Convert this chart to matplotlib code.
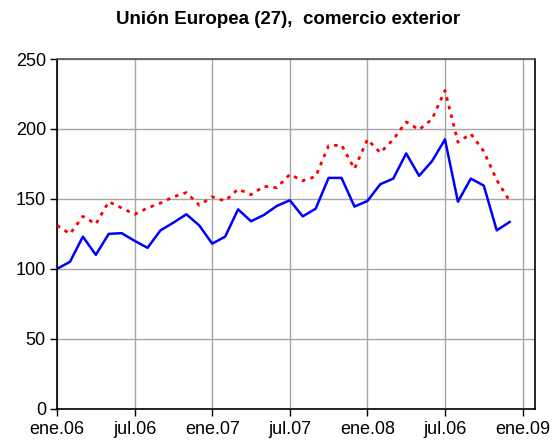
import numpy as np
import matplotlib.pyplot as plt

plt.rcParams['font.family'] = ['Liberation Sans', 'DejaVu Sans']

# monthly values, ene.06 .. dic.08
serie_azul = [100, 105, 123, 110, 125, 125.5, 120, 115, 127.5, 133, 139, 131,
              118, 123, 142.5, 134, 138.5, 145, 149, 137.5, 143, 165,
              165, 144.5, 148.5, 160.5, 164.5, 182.5, 166.5, 177, 192.5, 148,
              164.5, 159.5, 127.5, 133.5]
serie_roja = [131, 125, 137.5, 132, 148, 143.5, 139, 143.5, 147, 151.5, 154.5, 145.5,
              151.5, 148.5, 157, 153, 159, 158, 167.5, 163, 166, 188,
              188.5, 171.5, 192.5, 183, 192.5, 205, 199.5, 207, 227.5, 190.5,
              196.5, 184, 163.5, 148.5]
tick_labels = ['ene.06', 'jul.06', 'ene.07', 'jul.07', 'ene.08', 'jul.06', 'ene.09']

meses = np.arange(len(serie_azul))

fig = plt.figure(figsize=(5.52, 4.48), dpi=100)
ax = fig.add_axes([0.1033, 0.0877, 0.8659, 0.7806])

ax.plot(meses, serie_roja, color='red', lw=2.0, linestyle=(0, (1.3, 1.9)), zorder=3)
ax.plot(meses, serie_azul, color='blue', lw=1.8, zorder=4)

ax.set_xlim(0, 36.96)
ax.set_ylim(0, 250)
ax.set_xticks(np.arange(0, 37, 6))
ax.set_xticklabels(tick_labels)
ax.set_yticks(np.arange(0, 251, 50))
ax.grid(True, color='#a6a6a6', lw=1.0)
ax.set_axisbelow(True)

for s in ['left', 'bottom', 'right']:
    ax.spines[s].set_color('black')
    ax.spines[s].set_linewidth(1.2)
ax.spines['top'].set_color('#555555')
ax.spines['top'].set_linewidth(1.2)

ax.tick_params(axis='both', direction='out', length=5, width=1, colors='black',
               labelsize=13, pad=3)
ax.tick_params(axis='x', pad=4)

# title
fig.text(0.521, 0.957, 'Unión Europea (27),  comercio exterior', ha='center', va='center',
         fontsize=13.5, fontweight='bold')

fig.savefig('out.png', dpi=100)
